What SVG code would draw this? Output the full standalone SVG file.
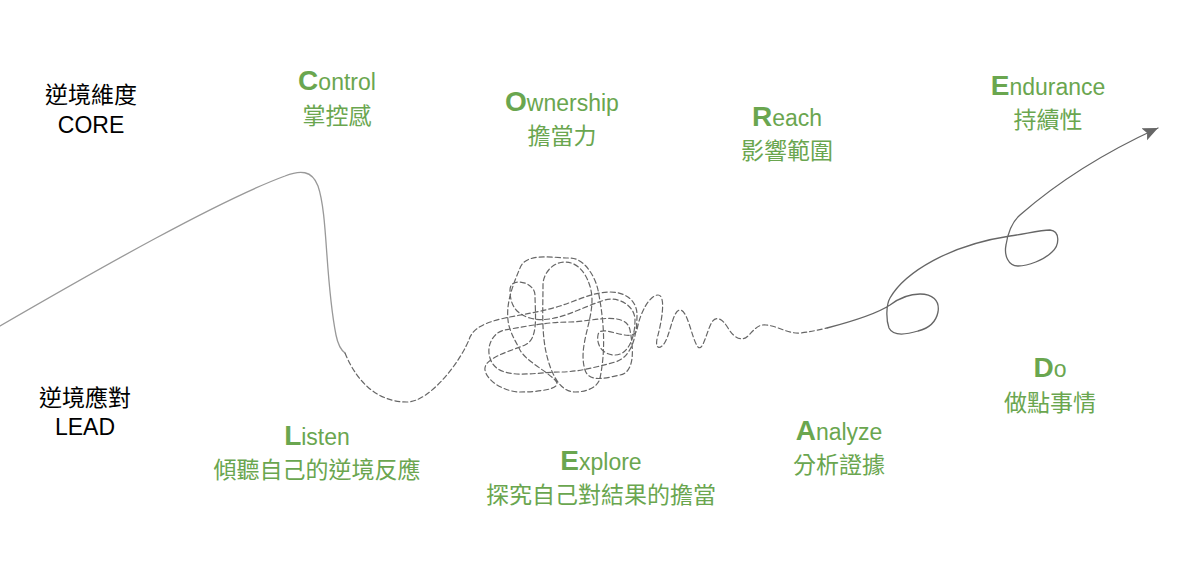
<svg xmlns="http://www.w3.org/2000/svg" width="1193" height="580" viewBox="0 0 1193 580">
  <style>
    .lbl { font-family: "Liberation Sans", "Noto Sans CJK TC", sans-serif; font-size: 23px; text-anchor: middle; }
    .blk { fill: #000000; }
    .grn { fill: #6aa64f; }
    .big { font-size: 28px; font-weight: bold; }
    .line { fill: none; stroke-linecap: round; stroke-linejoin: round; }
    .solidL { stroke: #999999; stroke-width: 1.3; }
    .solidR { stroke: #666666; stroke-width: 1.3; }
    .dash { stroke: #666666; stroke-width: 1.2; stroke-dasharray: 5 3; }
  </style>
  <defs>
    <marker id="arrow" markerUnits="userSpaceOnUse" markerWidth="18" markerHeight="14" refX="15" refY="6.5" orient="auto">
      <path d="M0,0 L15,6.5 L0,13 L3,6.5 Z" fill="#666666"/>
    </marker>
  </defs>
  <rect x="0" y="0" width="1193" height="580" fill="#ffffff"/>

  <g id="connectors">
    <path class="line solidL" d="M0,326 C100,268 220,200 285,176 C300,170 312,170 318,186 C328,215 325,280 336,335 C338,345 341,350 345,353"/>
    <path class="line dash" d="M345,353 C358,385 380,402 407,402 C430,402 462,360 470,337
      C476,325 492,321 505,318 C524,314 541,312 560,306 C576,301 593,292 610,292
      C625,292 637,300 637,315 C637,333 633,357 615,362 C597,367 578,372 560,372
      C535,372 497,382 490,358 C486,346 493,332 505,330 C527,326 548,322 570,322
      C590,322 626,310 630,330 C633,346 636,372 620,375 C606,378 589,383 585,370
      C578,347 592,324 592,300 C592,283 582,262 565,262 C553,262 543,273 543,285
      C543,310 541,336 548,360 C552,374 560,392 575,392 C585,392 598,388 600,378
      C606,349 604,320 598,290 C595,276 584,258 570,258 C553,258 526,252 520,268
      C513,285 506,302 508,320 C509,331 515,340 520,350 C526,361 545,370 555,380
      C565,390 534,392 520,392 C506,392 487,382 485,370 C483,358 511,351 525,345
      C539,339 535,313 535,295 C535,282 510,276 510,290 C510,305 516,314 530,318
      C554,325 581,307 605,300 C617,296 635,305 635,320 C635,338 628,355 615,355
      C603,355 596,345 598,335 C600,322 632,345 637,330
      C640,312 650,295 658,295 C666,295 662,320 658,335 C655,345 657,350 662,346
      C670,340 672,310 680,310 C688,310 692,340 698,347 C703,352 707,330 712,322
      C716,316 722,318 728,328 C734,338 742,342 748,336 C754,330 758,324 766,325
      C778,326 788,334 800,333 C810,332 818,330 827,328"/>
    <path class="line solidR" marker-end="url(#arrow)" d="M827,328 C850,322 875,315 890,305
      C898,299 908,294 920,294 C932,294 940,300 938,312 C936,322 930,328 918,331
      C905,335 893,336 889,328 C886,320 886,305 890,298 C905,272 950,245 1010,236
      C1025,234 1040,230 1050,230 C1060,231 1060,245 1052,252 C1044,260 1028,266 1018,266
      C1008,266 1004,255 1006,245 C1008,232 1012,222 1020,215 C1060,180 1110,150 1158,128"/>
  </g>

  <g id="core">
    <text class="lbl blk" x="91" y="103">逆境維度</text>
    <text class="lbl blk" x="91" y="133">CORE</text>
  </g>
  <g id="lead">
    <text class="lbl blk" x="85" y="406">逆境應對</text>
    <text class="lbl blk" x="85" y="435">LEAD</text>
  </g>
  <g id="control">
    <text class="lbl grn" x="337" y="90"><tspan class="big">C</tspan>ontrol</text>
    <text class="lbl grn" x="337" y="124">掌控感</text>
  </g>
  <g id="ownership">
    <text class="lbl grn" x="562" y="111"><tspan class="big">O</tspan>wnership</text>
    <text class="lbl grn" x="562" y="144">擔當力</text>
  </g>
  <g id="reach">
    <text class="lbl grn" x="787" y="126"><tspan class="big">R</tspan>each</text>
    <text class="lbl grn" x="787" y="159">影響範圍</text>
  </g>
  <g id="endurance">
    <text class="lbl grn" x="1048" y="95"><tspan class="big">E</tspan>ndurance</text>
    <text class="lbl grn" x="1048" y="128">持續性</text>
  </g>
  <g id="listen">
    <text class="lbl grn" x="317" y="445"><tspan class="big">L</tspan>isten</text>
    <text class="lbl grn" x="317" y="478">傾聽自己的逆境反應</text>
  </g>
  <g id="explore">
    <text class="lbl grn" x="601" y="470"><tspan class="big">E</tspan>xplore</text>
    <text class="lbl grn" x="601" y="503">探究自己對結果的擔當</text>
  </g>
  <g id="analyze">
    <text class="lbl grn" x="839" y="440"><tspan class="big">A</tspan>nalyze</text>
    <text class="lbl grn" x="839" y="473">分析證據</text>
  </g>
  <g id="do">
    <text class="lbl grn" x="1050" y="377"><tspan class="big">D</tspan>o</text>
    <text class="lbl grn" x="1050" y="411">做點事情</text>
  </g>
</svg>
